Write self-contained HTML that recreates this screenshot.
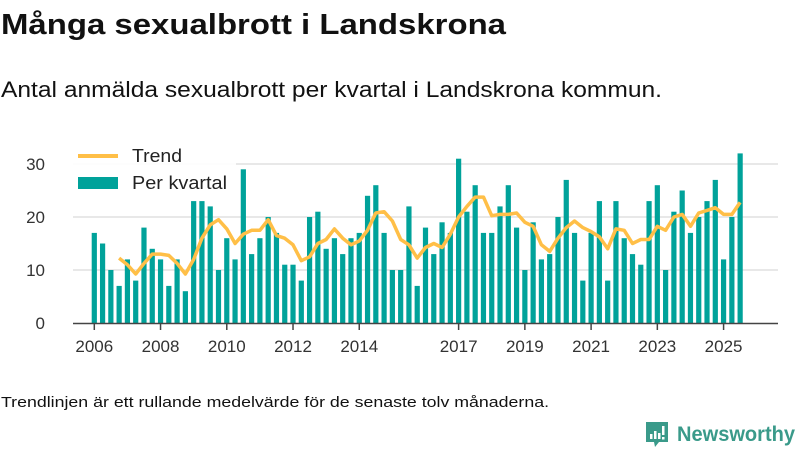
<!DOCTYPE html>
<html><head><meta charset="utf-8"><style>
html,body{margin:0;padding:0;background:#fff;width:800px;height:450px;overflow:hidden;font-family:"Liberation Sans",sans-serif}
</style></head><body>
<svg id="chart" width="800" height="450" xmlns="http://www.w3.org/2000/svg" font-family="Liberation Sans, sans-serif">
<text x="1" y="34" font-size="29" font-weight="bold" fill="#111" textLength="505" lengthAdjust="spacingAndGlyphs">Många sexualbrott i Landskrona</text>
<text x="1" y="97" font-size="22" fill="#111" textLength="661" lengthAdjust="spacingAndGlyphs">Antal anmälda sexualbrott per kvartal i Landskrona kommun.</text>
<g id="grid"></g>
<g id="bars"></g>
<g id="axis"></g>
<path id="trend" fill="none" stroke="#ffbf47" stroke-width="3.5" stroke-linejoin="round"/>
<g>
<rect x="68" y="143" width="168" height="54" fill="#fff" fill-opacity="0.9"/>
<line x1="78" y1="156" x2="118" y2="156" stroke="#ffbf47" stroke-width="4"/>
<text x="132" y="162" font-size="18" fill="#222" textLength="50" lengthAdjust="spacingAndGlyphs">Trend</text>
<rect x="78" y="177" width="40" height="12" fill="#00a29a"/>
<text x="132" y="189" font-size="18" fill="#222" textLength="95" lengthAdjust="spacingAndGlyphs">Per kvartal</text>
</g>
<text x="1" y="407" font-size="15" fill="#111" textLength="548" lengthAdjust="spacingAndGlyphs">Trendlinjen är ett rullande medelvärde för de senaste tolv månaderna.</text>
<g>
<path d="M646 422 h22 v20 h-9 l-4 5 l-1 -5 h-8 z" fill="#3a9a8a"/>
<rect x="650" y="434" width="2.5" height="5" fill="#fff"/><rect x="654" y="431" width="2.5" height="8" fill="#fff"/><rect x="658" y="433" width="2.5" height="6" fill="#fff"/><rect x="662" y="426" width="2.5" height="9" fill="#fff"/><rect x="662" y="437" width="2.5" height="2.5" fill="#fff"/>
<text x="677" y="441" font-size="21" font-weight="bold" fill="#3a9a8a" textLength="118" lengthAdjust="spacingAndGlyphs">Newsworthy</text>
</g>
</svg>
<script>
const startYear = 2006;
const values = [17,15,10,7, 12,8,18,14, 12,7,12,6, 23,23,22,10, 16,12,29,13, 16,20,17,11, 11,8,20,21, 14,16,13,16, 17,24,26,17, 10,10,22,7, 18,13,19,17, 31,21,26,17, 17,22,26,18, 10,19,12,13, 20,27,17,8, 17,23,8,23, 16,13,11,23, 26,10,21,25, 17,20,23,27, 12,20,32];
const trendStart = 3;
const trend = [12.25,11,9.25,11.25,13,13,12.75,11.25,9.25,12,16,18.5,19.5,17.75,15,16.75,17.5,17.5,19.5,16.5,16,14.75,11.75,12.5,15,15.75,17.75,16,14.75,15.5,17.5,20.75,21,19.25,15.75,14.75,12.25,14.25,15,14.25,16.75,20,22,23.75,23.75,20.25,20.5,20.5,20.75,19,18.25,14.75,13.5,16,18,19.25,18,17.25,16.25,14,17.75,17.5,15,15.75,15.75,18.25,17.5,20,20.5,18.25,20.75,21.25,21.75,20.5,20.5,22.75];
const yTicks = [0,10,20,30];
const xTickYears = [2006,2008,2010,2012,2014,2017,2019,2021,2023,2025];
const NS = "http://www.w3.org/2000/svg";
const x = i => 94.3 + i * 8.28;
const y = v => 323 - v * 5.3;
const grid = document.getElementById('grid');
yTicks.forEach(t => {
  if (t > 0) {
    const l = document.createElementNS(NS, 'line');
    
    
    l.setAttribute('x1', 73); l.setAttribute('x2', 778);
    l.setAttribute('y1', y(t)); l.setAttribute('y2', y(t));
    l.setAttribute('stroke', '#e0e0e0'); l.setAttribute('stroke-width', '1.5');
    grid.appendChild(l);
  }
  const tx = document.createElementNS(NS, 'text');
  
  
  tx.setAttribute('x', 45); tx.setAttribute('y', y(t) + 6);
  tx.setAttribute('text-anchor', 'end'); tx.setAttribute('font-size', '17'); tx.setAttribute('fill', '#333');
  tx.textContent = t;
  grid.appendChild(tx);
});
const bars = document.getElementById('bars');
values.forEach((v, i) => {
  const r = document.createElementNS(NS, 'rect');
  
  
  r.setAttribute('x', x(i) - 2.6); r.setAttribute('width', 5.2);
  r.setAttribute('y', y(v)); r.setAttribute('height', y(0) - y(v));
  r.setAttribute('fill', '#00a29a');
  bars.appendChild(r);
});
const axis = document.getElementById('axis');
const al = document.createElementNS(NS, 'line');


al.setAttribute('x1', 73); al.setAttribute('x2', 778); al.setAttribute('y1', 323.5); al.setAttribute('y2', 323.5);
al.setAttribute('stroke', '#444'); al.setAttribute('stroke-width', '1.5');
axis.appendChild(al);
xTickYears.forEach(yr => {
  const px = x((yr - startYear) * 4);
  const tk = document.createElementNS(NS, 'line');
  
  
  tk.setAttribute('x1', px); tk.setAttribute('x2', px); tk.setAttribute('y1', 323); tk.setAttribute('y2', 330);
  tk.setAttribute('stroke', '#444'); tk.setAttribute('stroke-width', '1.5');
  axis.appendChild(tk);
  const tx = document.createElementNS(NS, 'text');
  
  
  tx.setAttribute('x', px); tx.setAttribute('y', 352);
  tx.setAttribute('text-anchor', 'middle'); tx.setAttribute('font-size', '17'); tx.setAttribute('fill', '#333');
  tx.textContent = yr;
  axis.appendChild(tx);
});
document.getElementById('trend').setAttribute('d', trend.map((v, i) => (i ? 'L' : 'M') + x(i + trendStart).toFixed(1) + ' ' + y(v).toFixed(1)).join(' '));
</script>
</body></html>
